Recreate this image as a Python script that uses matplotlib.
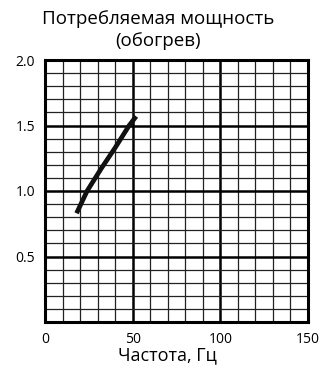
import matplotlib
matplotlib.use("Agg")
import matplotlib.pyplot as plt
import numpy as np

freq = [18, 24, 32, 40, 48, 52]
power = [0.83, 1.0, 1.17, 1.33, 1.5, 1.57]
xticks = [0, 50, 100, 150]
yticks = [0.5, 1.0, 1.5, 2.0]
ytick_labels = ["0.5", "1.0", "1.5", "2.0"]

plt.rcParams['font.family'] = ['Open Sans', 'DejaVu Sans']
fig = plt.figure(figsize=(3.27, 3.65), dpi=100)
ax = fig.add_axes([45/327, 1-322/365, (308-45)/327, (322-60)/365])
ax.set_xlim(0, 150)
ax.set_ylim(0, 2.0)
for x in np.arange(10, 150, 10):
    lw = 1.8 if x % 50 == 0 else 0.9
    ax.axvline(x, color='#222222' if lw < 1 else 'black', lw=lw, zorder=1)
for y in np.arange(1, 20) / 10:
    major = abs(y * 2 - round(y * 2)) < 1e-9
    lw = 1.8 if major else 0.9
    ax.axhline(y, color='black' if major else '#222222', lw=lw, zorder=1)
ax.plot(freq, power, color='#111111', lw=3.4, solid_capstyle='butt', zorder=3)
for s in ax.spines.values():
    s.set_linewidth(2.2)
ax.set_xticks(xticks)
ax.set_xticklabels([str(t) for t in xticks])
ax.set_yticks(yticks)
ax.set_yticklabels(ytick_labels)
ax.tick_params(length=0, labelsize=10, pad=7)
fig.text(167/327, 1-355/365, "Частота, Гц", ha='center', va='center', fontsize=13)
fig.text(158/327, 1-19/365, "Потребляемая мощность", ha='center', va='center', fontsize=13.5)
fig.text(158/327, 1-41/365, "(обогрев)", ha='center', va='center', fontsize=13.5)
fig.savefig("out.png", dpi=100)
